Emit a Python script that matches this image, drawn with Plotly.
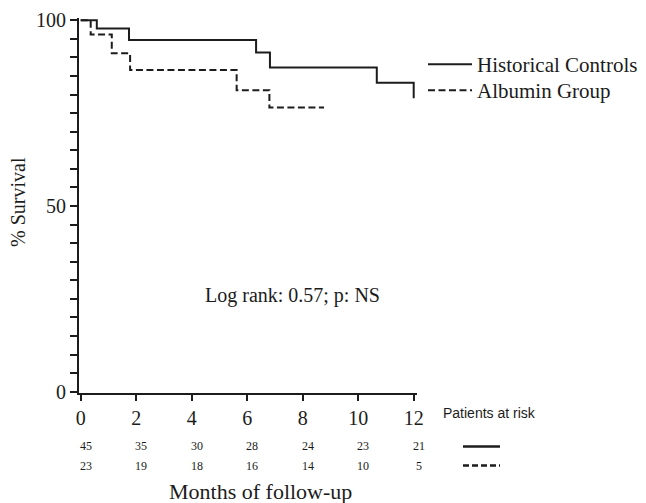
import plotly.graph_objects as go

# ---- data ----
hc_months = [0, 0.58, 1.74, 6.32, 6.82, 10.67, 12.0]
hc_survival = [100, 97.8, 94.7, 91.3, 87.3, 83.2, 79.0]

alb_months = [0, 0.36, 1.12, 1.78, 5.62, 6.80, 8.77]
alb_survival = [100, 96.2, 91.1, 86.6, 81.2, 76.5, 76.5]

risk_months = [0, 2, 4, 6, 8, 10, 12]
risk_hc = [45, 35, 30, 28, 24, 23, 21]
risk_alb = [23, 19, 18, 16, 14, 10, 5]

x_ticks = [0, 2, 4, 6, 8, 10, 12]
y_ticks = [0, 50, 100]

SERIF = "Liberation Serif, Times New Roman, serif"
SANS = "Liberation Sans, Arial, sans-serif"
INK = "#1c1c1c"

# page body has an 8px margin: the figure is drawn from (8, 8) of the window
OFF = 8
W, H = 646 - OFF, 503 - OFF
L, R, T, B = 79 - OFF, 229, 18 - OFF, 110
plot_w = W - L - R
plot_h = H - T - B


def px(pix):  # window x pixel -> paper x
    return (pix - OFF - L) / plot_w


def py(pix):  # window y pixel -> paper y
    return (H - B - (pix - OFF)) / plot_h


fig = go.Figure()
fig.add_trace(go.Scatter(x=hc_months, y=hc_survival, mode="lines", line_shape="hv",
                         name="Historical Controls", legend="legend",
                         line=dict(color=INK, width=2, dash="solid")))
fig.add_trace(go.Scatter(x=alb_months, y=alb_survival, mode="lines", line_shape="hv",
                         name="Albumin Group", legend="legend2",
                         line=dict(color=INK, width=2, dash="7px,3.5px")))

# patients-at-risk rows
for m, a, b in zip(risk_months, risk_hc, risk_alb):
    fig.add_annotation(x=m, y=py(446), xref="x", yref="paper", text=str(a), showarrow=False,
                       xshift=5, font=dict(family=SERIF, size=12, color=INK), yanchor="middle")
    fig.add_annotation(x=m, y=py(466), xref="x", yref="paper", text=str(b), showarrow=False,
                       xshift=5, font=dict(family=SERIF, size=12, color=INK), yanchor="middle")

fig.add_annotation(x=px(441), y=py(413), xref="paper", yref="paper",
                   text="Patients at risk", showarrow=False, xanchor="left", yanchor="middle",
                   font=dict(family=SANS, size=14, color=INK))
fig.add_shape(type="line", xref="paper", yref="paper",
              x0=px(463), x1=px(500), y0=py(446.5), y1=py(446.5),
              line=dict(color=INK, width=2.5))
fig.add_shape(type="line", xref="paper", yref="paper",
              x0=px(463), x1=px(500), y0=py(465.5), y1=py(465.5),
              line=dict(color=INK, width=2.5, dash="6px,3px"))

fig.add_annotation(x=7.65, y=26, xref="x", yref="y", text="Log rank: 0.57; p: NS",
                   showarrow=False, font=dict(family=SERIF, size=20, color=INK))

fig.add_annotation(x=px(260), y=py(491), xref="paper", yref="paper",
                   text="Months of follow-up", showarrow=False, yanchor="middle",
                   font=dict(family=SERIF, size=22, color=INK))
fig.add_annotation(x=px(18), y=py(202), xref="paper", yref="paper",
                   text="% Survival", showarrow=False, textangle=-90, xanchor="center",
                   yanchor="middle", font=dict(family=SERIF, size=20, color=INK))

legend_common = dict(xanchor="left", yanchor="top",
                     font=dict(family=SERIF, size=21, color=INK), itemwidth=44,
                     bgcolor="rgba(0,0,0,0)", borderwidth=0)

fig.update_layout(
    width=W, height=H,
    margin=dict(l=L, r=R, t=T, b=B, autoexpand=False),
    paper_bgcolor="white", plot_bgcolor="white",
    showlegend=True,
    legend=dict(x=px(423), y=py(44), **legend_common),
    legend2=dict(x=px(423), y=py(70), **legend_common),
    font=dict(family=SERIF, color=INK),
)

fig.update_xaxes(range=[-0.0613, 12.119], tickvals=x_ticks, ticktext=[str(v) for v in x_ticks],
                 showgrid=False, zeroline=False, showline=True, linecolor=INK, linewidth=1.8,
                 ticks="outside", ticklen=6, tickwidth=1.5, tickcolor=INK,
                 tickfont=dict(family=SERIF, size=20, color=INK))
fig.update_yaxes(range=[-0.35, 100.62], tickvals=y_ticks,
                 showgrid=False, zeroline=False, showline=True, linecolor=INK, linewidth=1.8,
                 ticks="outside", ticklen=7, tickwidth=1.5, tickcolor=INK,
                 minor=dict(dtick=5, tick0=0, ticks="outside", ticklen=7, tickwidth=1.5,
                            tickcolor=INK, showgrid=False),
                 tickfont=dict(family=SERIF, size=20, color=INK))

fig.write_html("out.html")
